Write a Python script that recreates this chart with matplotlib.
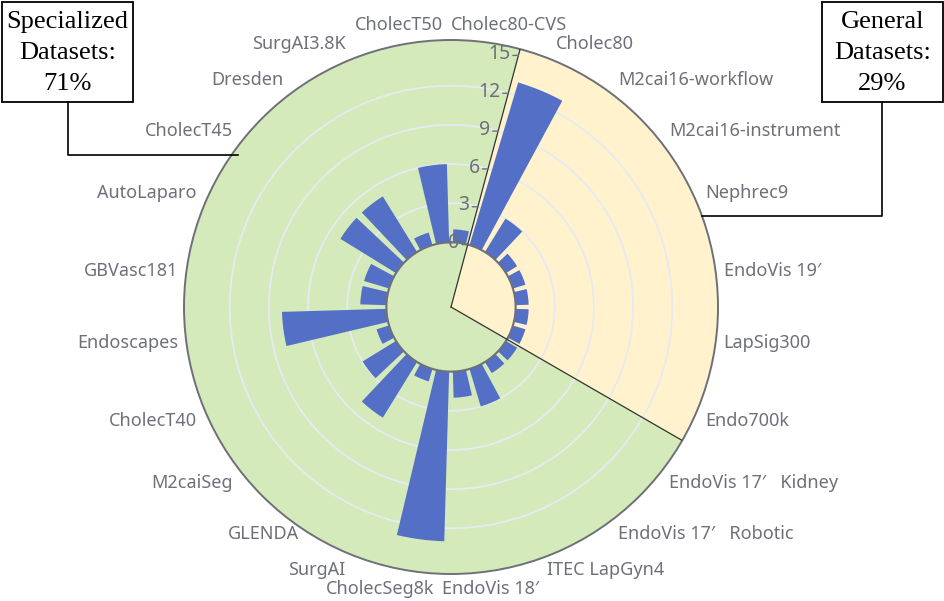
import numpy as np
import matplotlib.pyplot as plt
from matplotlib.patches import Rectangle

plt.rcParams['font.family'] = ['Noto Sans', 'DejaVu Sans']

# --- data (clockwise from the top) ---
datasets = ['Cholec80-CVS', 'Cholec80', 'M2cai16-workflow', 'M2cai16-instrument', 'Nephrec9',
            'EndoVis 19′', 'LapSig300', 'Endo700k', 'EndoVis 17′   Kidney', 'EndoVis 17′   Robotic',
            'ITEC LapGyn4', 'EndoVis 18′', 'CholecSeg8k', 'SurgAI', 'GLENDA', 'M2caiSeg',
            'CholecT40', 'Endoscapes', 'GBVasc181', 'AutoLaparo', 'CholecT45', 'Dresden',
            'SurgAI3.8K', 'CholecT50']
counts = [1, 13, 3, 1, 1, 1, 1, 1, 1, 1, 3, 2, 13, 1, 5, 3, 1, 8, 2, 2, 5, 5, 1, 6]
general = ['Cholec80', 'M2cai16-workflow', 'M2cai16-instrument', 'Nephrec9',
           'EndoVis 19′', 'LapSig300', 'Endo700k']
r_ticks = [0, 3, 6, 9, 12, 15]

grey = '#6e7079'
blue = '#5470c6'
green = '#d4eaba'
yellow = '#fff2cc'

# --- geometry (pixels) ---
W, H = 944, 601
cx, cy, R = 451, 307, 267
hole, rmax = 4.95, 15.5
px_per_unit = R / (rmax + hole)

n = len(datasets)
step = 2 * np.pi / n
centers = (np.arange(n) + 0.5) * step
gidx = [datasets.index(g) for g in general]
g0, g1 = min(gidx), max(gidx) + 1

fig = plt.figure(figsize=(W / 100, H / 100), dpi=100)
ax = fig.add_axes([(cx - R) / W, (H - cy - R) / H, 2 * R / W, 2 * R / H], projection='polar')
ax.set_theta_zero_location('N')
ax.set_theta_direction(-1)
ax.set_ylim(-hole, rmax)
ax.set_facecolor(green)

# general-datasets sector
ax.bar((g0 + g1) / 2 * step, rmax + hole, width=(g1 - g0) * step, bottom=-hole,
       color=yellow, lw=0, zorder=0.5)

# split circles
t = np.linspace(0, 2 * np.pi, 500)
for v in r_ticks[1:-1]:
    ax.plot(t, np.full_like(t, v), color='#e6ebf3', lw=1.3, zorder=1)
ax.plot(t, np.zeros_like(t), color=grey, lw=1.5, zorder=2.5)

# bars
ax.bar(centers, counts, width=0.78 * step, bottom=0, color=blue, lw=0, zorder=2)

# dividers
for th in [g0 * step, g1 * step]:
    ax.plot([th, th], [-hole, rmax], color='#333333', lw=0.9, zorder=3)

ax.grid(False)
ax.set_yticks([])
ax.set_xticks(np.arange(n) * step)
ax.set_xticklabels([])
ax.tick_params(axis='x', direction='out', length=5, width=1, color=grey)
ax.spines['polar'].set_color(grey)
ax.spines['polar'].set_linewidth(1.4)
ax.spines['inner'].set_visible(False)

# radius labels along the divider
th_r = g0 * step
for v in r_ticks:
    ax.annotate('', xy=(th_r, v), xytext=(-4, 0), textcoords='offset points',
                arrowprops=dict(arrowstyle='-', color=grey, lw=1, shrinkA=0, shrinkB=0))
    ax.annotate(str(v), xy=(th_r, v), xytext=(-6, 1), textcoords='offset points',
                ha='right', va='center', color=grey, fontsize=14, zorder=4)

# category labels
r_lab = rmax + 8 / px_per_unit
nudge = {'Cholec80-CVS': 16, 'CholecT50': -12, 'CholecSeg8k': -25, 'EndoVis 18′': 3,
         'GLENDA': 11, 'ITEC LapGyn4': -7}
for name, th in zip(datasets, centers):
    sx, sy = np.sin(th), np.cos(th)
    ha = 'center' if abs(sx) < 0.3 else ('left' if sx > 0 else 'right')
    va = 'center' if abs(sy) < 0.3 else ('bottom' if sy > 0 else 'top')
    ax.annotate(name, xy=(th, r_lab), xytext=(nudge.get(name, 0), 0), textcoords='offset points',
                ha=ha, va=va, color=grey, fontsize=13, annotation_clip=False)

# --- boxes and connectors ---
ov = fig.add_axes([0, 0, 1, 1], facecolor='none')
ov.set_xlim(0, W)
ov.set_ylim(H, 0)
ov.axis('off')

n_spec = n - len(general)
boxes = [
    ((2, 2), 131, 100, f'Specialized\nDatasets:\n{round(100 * n_spec / n)}%', [68, 68, 238], [102, 155, 155]),
    ((822, 2), 121, 100, f'General\nDatasets:\n{round(100 * len(general) / n)}%', [882, 882, 702], [102, 216, 216]),
]
for xy, bw, bh, txt, lx, ly in boxes:
    ov.add_patch(Rectangle(xy, bw, bh, facecolor='white', edgecolor='black', lw=1.3))
    ov.text(xy[0] + bw / 2, xy[1] + bh / 2 + 1, txt, ha='center', va='center',
            family='Liberation Serif', fontsize=19, linespacing=1.55)
    ov.plot(lx, ly, color='black', lw=1.2)

fig.savefig('out.png', dpi=100)
